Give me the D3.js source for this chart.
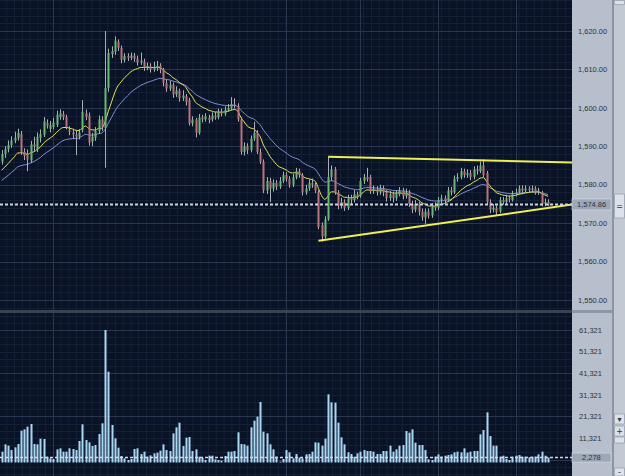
<!DOCTYPE html>
<html lang="en">
<head>
<meta charset="UTF-8" />
<title>candles</title>
<style>
  body { margin: 0; background: #0a1226; overflow: hidden; }
  svg { display: block; }
  .axis text { font-family: "Liberation Sans", Arial, sans-serif; font-size: 7.5px; fill: #2c3240; }
</style>
</head>
<body>
<svg width="625" height="476"></svg>
<script src="https://d3js.org/d3.v7.min.js"></script>
<script>
// ---- data ----
const open = [1586.0,1588.0,1589.2,1590.3,1591.5,1592.2,1593.2,1588.6,1588.0,1586.3,
  1590.5,1589.2,1592.2,1593.0,1596.0,1594.5,1595.0,1595.6,1597.6,1598.4,
  1597.6,1594.2,1593.6,1593.0,1592.5,1594.2,1598.6,1598.0,1591.2,1592.2,
  1594.0,1597.0,1594.8,1605.2,1614.0,1614.6,1617.2,1615.6,1612.5,1613.5,
  1613.0,1613.6,1612.8,1611.8,1612.0,1610.5,1610.8,1610.0,1610.5,1611.0,
  1610.0,1606.5,1605.0,1606.0,1603.5,1604.5,1602.5,1603.0,1602.0,1596.0,
  1597.0,1593.5,1597.5,1597.0,1597.5,1597.0,1598.0,1597.5,1599.0,1598.5,
  1599.5,1600.0,1601.0,1600.5,1597.0,1588.5,1590.0,1589.0,1592.0,1593.5,
  1588.5,1586.0,1578.5,1581.0,1579.0,1580.5,1579.5,1581.0,1582.5,1581.5,
  1580.0,1582.0,1583.5,1582.5,1578.0,1579.0,1580.5,1580.0,1578.0,1569.5,
  1566.5,1571.0,1582.0,1584.0,1578.0,1574.5,1575.5,1574.0,1576.5,1576.0,
  1577.5,1577.0,1581.0,1582.0,1582.0,1578.3,1578.8,1578.0,1579.0,1578.0,
  1576.5,1577.5,1576.5,1577.5,1578.5,1577.0,1578.0,1575.0,1573.5,1575.0,
  1573.0,1571.5,1573.0,1572.0,1574.5,1574.0,1576.0,1576.5,1576.0,1578.5,
  1578.0,1581.5,1582.0,1583.5,1582.5,1583.0,1582.0,1584.0,1583.5,1585.0,
  1583.0,1575.5,1573.5,1574.0,1573.0,1576.0,1575.5,1576.5,1576.0,1577.5,
  1578.0,1579.0,1578.5,1579.0,1578.6,1579.0,1578.0,1578.0,1575.0,1575.5];
const high = [1589.0,1590.0,1591.5,1592.6,1593.8,1594.6,1594.0,1589.5,1589.2,1591.4,
  1592.5,1593.6,1594.4,1597.6,1597.0,1596.6,1597.4,1599.3,1599.6,1599.2,
  1598.2,1595.2,1594.6,1594.0,1594.5,1602.0,1599.6,1598.8,1593.5,1595.0,
  1598.0,1597.8,1620.0,1615.4,1616.0,1618.6,1617.8,1616.2,1614.2,1614.2,
  1614.4,1614.3,1613.6,1614.4,1612.8,1611.8,1611.6,1612.0,1612.2,1611.6,
  1610.4,1607.4,1607.0,1606.6,1605.6,1605.0,1604.6,1603.6,1602.6,1597.8,
  1597.4,1598.4,1598.2,1598.6,1598.2,1598.8,1598.9,1599.8,1599.8,1600.4,
  1601.0,1602.8,1602.5,1601.2,1597.6,1591.0,1590.8,1592.8,1596.4,1594.2,
  1589.4,1586.6,1582.0,1581.8,1581.4,1581.2,1582.0,1583.4,1583.2,1582.2,
  1582.8,1584.4,1584.2,1583.0,1580.0,1581.4,1581.6,1580.6,1578.6,1570.2,
  1571.8,1587.2,1585.0,1584.6,1578.6,1576.6,1576.2,1577.4,1577.4,1578.6,
  1578.2,1581.8,1582.8,1584.4,1582.6,1579.8,1579.6,1580.0,1579.8,1578.6,
  1578.4,1578.2,1578.6,1579.4,1579.2,1579.0,1578.6,1575.8,1576.0,1575.6,
  1573.8,1573.8,1573.8,1575.2,1575.4,1576.8,1577.4,1577.2,1579.4,1579.4,
  1582.4,1583.0,1584.4,1584.2,1584.0,1583.8,1584.8,1585.0,1586.0,1586.6,
  1583.6,1576.2,1575.0,1574.6,1576.8,1576.8,1577.4,1577.2,1578.4,1579.0,
  1579.8,1579.8,1579.8,1579.6,1579.8,1579.6,1579.2,1578.4,1576.4,1576.2];
const low = [1585.2,1587.0,1588.4,1589.6,1590.8,1591.5,1587.8,1586.4,1583.5,1585.6,
  1588.8,1588.5,1591.0,1592.4,1594.6,1593.6,1594.4,1595.0,1596.9,1596.8,
  1594.4,1592.9,1592.0,1587.7,1591.8,1593.6,1596.8,1590.2,1590.0,1591.4,
  1593.2,1594.0,1584.4,1604.2,1613.0,1613.8,1614.8,1611.6,1611.8,1612.2,
  1612.4,1612.0,1611.0,1611.2,1609.6,1609.8,1609.2,1609.4,1609.6,1609.0,
  1605.6,1604.2,1604.4,1602.6,1602.8,1601.6,1601.8,1600.6,1595.4,1595.2,
  1592.3,1593.0,1596.2,1596.4,1596.0,1596.4,1596.9,1597.0,1597.8,1597.9,
  1599.0,1599.4,1599.8,1596.4,1587.8,1587.6,1588.0,1588.4,1591.4,1588.0,
  1585.4,1577.8,1577.6,1575.5,1578.2,1578.6,1578.9,1580.4,1580.8,1579.2,
  1579.4,1581.4,1581.8,1577.2,1577.4,1578.4,1579.2,1577.8,1568.4,1565.2,
  1566.0,1570.6,1581.0,1577.4,1573.6,1573.8,1573.2,1573.4,1575.0,1575.4,
  1576.2,1576.6,1580.2,1580.8,1577.6,1577.6,1577.2,1577.4,1577.0,1575.6,
  1575.8,1575.4,1575.8,1577.0,1576.2,1576.4,1574.2,1572.6,1572.8,1572.0,
  1570.6,1569.8,1571.2,1571.4,1573.2,1573.4,1575.2,1575.2,1575.6,1577.2,
  1577.6,1580.8,1581.4,1581.8,1581.8,1581.2,1581.4,1582.6,1583.0,1582.0,
  1575.0,1572.6,1572.8,1572.2,1572.6,1574.8,1575.0,1575.4,1575.6,1577.0,
  1577.6,1577.8,1578.0,1577.8,1578.0,1577.4,1577.4,1574.4,1574.4,1574.4];
const close = [1588.0,1589.2,1590.3,1591.5,1592.2,1593.5,1588.6,1587.5,1586.5,1590.5,
  1590.0,1592.5,1593.2,1596.5,1595.4,1595.5,1596.2,1598.2,1598.6,1597.6,
  1595.0,1593.8,1593.0,1592.5,1593.6,1599.0,1597.6,1591.0,1592.5,1594.0,
  1597.0,1595.0,1605.2,1614.3,1614.8,1617.5,1615.6,1612.5,1613.5,1613.0,
  1613.6,1612.8,1611.8,1612.3,1610.5,1610.9,1610.0,1610.6,1610.9,1610.0,
  1606.5,1605.0,1606.0,1603.5,1604.5,1602.5,1603.2,1601.5,1596.0,1597.0,
  1593.5,1597.5,1597.0,1597.8,1596.8,1598.0,1597.5,1599.0,1598.5,1599.5,
  1600.0,1601.0,1600.5,1597.0,1588.5,1590.0,1589.0,1592.0,1593.5,1588.5,
  1586.0,1578.5,1581.0,1579.0,1580.5,1579.5,1581.0,1582.5,1581.5,1580.0,
  1582.0,1583.5,1582.5,1578.0,1579.0,1580.5,1580.0,1578.5,1569.0,1566.5,
  1571.0,1582.0,1584.0,1578.0,1574.5,1575.5,1574.0,1576.5,1576.0,1577.5,
  1577.0,1581.0,1582.0,1581.5,1578.3,1578.8,1578.0,1579.0,1578.0,1576.5,
  1577.5,1576.5,1577.5,1578.5,1577.0,1578.0,1575.0,1573.5,1575.0,1573.0,
  1571.5,1573.0,1572.0,1574.5,1574.0,1576.0,1576.5,1576.0,1578.5,1578.0,
  1581.5,1582.0,1583.5,1582.5,1583.0,1582.0,1584.0,1583.5,1585.0,1582.5,
  1575.5,1573.5,1574.0,1572.8,1576.0,1575.5,1576.5,1576.2,1577.5,1578.0,
  1579.0,1578.5,1579.0,1578.6,1579.0,1578.0,1578.5,1575.0,1575.5,1574.86];
const volume = [5013,8408,7790,5785,7019,8562,14733,15350,16583,17818,
  8562,8408,11029,10876,2699,1928,1620,6094,6557,5013,
  5013,6557,6248,5785,9950,17664,10413,9334,7636,8099,
  13190,18127,61321,42037,17355,11184,6865,3008,1928,1157,
  1620,6248,6557,3934,5013,2699,3317,4242,4551,5476,
  8408,5785,5322,13499,16275,18435,7636,11492,11801,5322,
  6094,2699,2200,1157,3162,3162,1466,1157,848,3008,
  5013,5013,5322,13962,8562,8408,7790,16275,19360,21212,
  27999,14270,13499,8408,6094,2699,386,1620,5785,4705,
  1928,3934,2236,1928,3779,3934,5013,9334,9180,7790,
  11029,31547,27845,27691,18435,11647,8408,4705,3934,2699,
  4242,5013,5785,5322,5322,5013,3934,3934,5322,5322,
  7790,5013,6094,7790,8099,14578,13807,15350,9180,8099,
  8099,5785,1466,1157,2699,3779,2699,3162,3471,3779,
  4705,5013,4705,6557,4551,5013,5322,5322,13036,15041,
  23218,12264,7790,7790,2699,3162,1620,1157,2699,3162,
  3471,2699,2699,2390,2699,2699,3779,5013,3162,2278];
const priceTicks = [1550, 1560, 1570, 1580, 1590, 1600, 1610, 1620];
const volumeTicks = [11321, 21321, 31321, 41321, 51321, 61321];
const lastPrice = 1574.86;
const lastVolume = 2278;
const fastStart = 1583.0, slowStart = 1580.5; // MA levels at the left edge
const trendUpper = [[101, 1587.3], [177, 1585.8]];
const trendLower = [[98, 1565.4], [177, 1574.9]];
const dayBreaks = [16, 88, 111, 135, 159];

// ---- layout ----
const W = 625, H = 476;
const plotR = 572, axisR = 612;
const priceTop = 0, priceBot = 310, volTop = 313, volBot = 476;
const N = close.length;

const svg = d3.select("svg");

const x = d3.scaleLinear().domain([0, N - 1]).range([1.6, 548]);
const y = d3.scaleLinear().domain([1550, 1620]).range([300, 31]);
const yv = d3.scaleLinear().domain([0, 61321]).range([462.5, 330]);

// background
svg.append("rect").attr("width", plotR).attr("height", H).attr("fill", "#0a1226");

// clip paths for the two panes
const defs = svg.append("defs");
defs.append("clipPath").attr("id", "cp").append("rect")
  .attr("x", 0).attr("y", priceTop).attr("width", plotR).attr("height", priceBot - priceTop);
defs.append("clipPath").attr("id", "cv").append("rect")
  .attr("x", 0).attr("y", volTop).attr("width", plotR).attr("height", volBot - volTop);

const gp = svg.append("g").attr("clip-path", "url(#cp)");
const gv = svg.append("g").attr("clip-path", "url(#cv)");

// grid
const minorX = d3.range(dayBreaks[0] - 2.4 * 8, N + 12, 2.4);
[gp, gv].forEach(g => {
  g.append("g").selectAll("line").data(minorX).join("line")
    .attr("x1", d => x(d)).attr("x2", d => x(d))
    .attr("y1", 0).attr("y2", H)
    .attr("stroke", "#142036").attr("stroke-width", 1);
});
gp.append("g").selectAll("line").data(d3.range(1540, 1632, 2)).join("line")
  .attr("x1", 0).attr("x2", plotR)
  .attr("y1", d => Math.round(y(d)) + 0.5).attr("y2", d => Math.round(y(d)) + 0.5)
  .attr("stroke", d => d % 10 === 0 ? "#2a3550" : "#142036");
gv.append("g").selectAll("line").data(d3.range(1321 - 20000 / 6 * 2, 75000, 20000 / 6)).join("line")
  .attr("x1", 0).attr("x2", plotR)
  .attr("y1", d => Math.round(yv(d)) + 0.5).attr("y2", d => Math.round(yv(d)) + 0.5)
  .attr("stroke", (d, i) => i % 6 === 2 ? "#2a3550" : "#142036");
[gp, gv].forEach(g => {
  g.append("g").selectAll("line").data(dayBreaks).join("line")
    .attr("x1", d => Math.round(x(d)) + 0.5).attr("x2", d => Math.round(x(d)) + 0.5)
    .attr("y1", 0).attr("y2", H)
    .attr("stroke", "#2a3550");
});

// moving averages
function ema(values, period, seed) {
  const k = 2 / (period + 1);
  let prev = seed;
  return values.map(v => (prev = prev + k * (v - prev)));
}
const fast = ema(close, 12, fastStart);
const slow = ema(close, 24, slowStart);
const line = d3.line().x((d, i) => x(i)).y(d => y(d)).curve(d3.curveMonotoneX);

gp.append("path").attr("d", line(slow)).attr("fill", "none")
  .attr("stroke", "#7d8fd6").attr("stroke-width", 1);
gp.append("path").attr("d", line(fast)).attr("fill", "none")
  .attr("stroke", "#e4e45c").attr("stroke-width", 1);

// candles
const idx = d3.range(N);
const candles = gp.append("g").selectAll("g").data(idx).join("g");
candles.append("line")
  .attr("x1", i => Math.round(x(i)) + 0.5).attr("x2", i => Math.round(x(i)) + 0.5)
  .attr("y1", i => y(high[i])).attr("y2", i => y(low[i]))
  .attr("stroke", "#a9aeb9").attr("stroke-width", 1);
candles.append("rect")
  .attr("x", i => Math.round(x(i)) - 0.5)
  .attr("width", 2)
  .attr("y", i => y(Math.max(open[i], close[i])))
  .attr("height", i => Math.max(1, Math.abs(y(open[i]) - y(close[i]))))
  .attr("fill", i => close[i] >= open[i] ? "#68b873" : "#b8737c");

// trend lines
const tl = d3.line().x(d => x(d[0])).y(d => y(d[1]));
[trendUpper, trendLower].forEach(t => {
  gp.append("path").attr("d", tl(t)).attr("fill", "none")
    .attr("stroke", "#eeee55").attr("stroke-width", 2);
});

// current price line
gp.append("line").attr("x1", 0).attr("x2", plotR)
  .attr("y1", y(lastPrice)).attr("y2", y(lastPrice))
  .attr("stroke", "#cfd3dc").attr("stroke-width", 2).attr("stroke-dasharray", "3,2");

// volume bars
gv.append("g").selectAll("rect").data(idx).join("rect")
  .attr("x", i => Math.round(x(i)) - 0.5)
  .attr("width", 2)
  .attr("y", i => yv(volume[i]))
  .attr("height", i => yv(0) - yv(volume[i]))
  .attr("fill", "#a9d8f4");
gv.append("line").attr("x1", 0).attr("x2", plotR)
  .attr("y1", yv(lastVolume)).attr("y2", yv(lastVolume))
  .attr("stroke", "#d6dae2").attr("stroke-width", 1.5).attr("stroke-dasharray", "3,2");

// pane separator
svg.append("rect").attr("x", 0).attr("y", priceBot).attr("width", plotR).attr("height", volTop - priceBot)
  .attr("fill", "#3a4252");

// right axis panel
const ax = svg.append("g").attr("class", "axis");
ax.append("rect").attr("x", plotR).attr("y", 0).attr("width", axisR - plotR).attr("height", H).attr("fill", "#b7bfcc");
ax.append("rect").attr("x", plotR).attr("y", priceBot).attr("width", axisR - plotR).attr("height", volTop - priceBot).attr("fill", "#8e97a7");

const fmtP = d3.format(",.2f"), fmtV = d3.format(",");
ax.append("g").selectAll("text").data(priceTicks).join("text")
  .attr("x", 578).attr("y", d => y(d) + 2.7).text(d => fmtP(d));
ax.append("g").selectAll("text").data(volumeTicks).join("text")
  .attr("x", 579).attr("y", d => yv(d) + 2.7).text(d => fmtV(d));

// last-value boxes
ax.append("rect").attr("x", plotR).attr("y", y(lastPrice) - 5.5).attr("width", axisR - plotR - 1).attr("height", 11)
  .attr("fill", "#9ea7b7").attr("stroke", "#d5dae2").attr("stroke-width", 0.6);
ax.append("text").attr("x", 577).attr("y", y(lastPrice) + 2.7).text(fmtP(lastPrice));
ax.append("rect").attr("x", plotR).attr("y", yv(lastVolume) - 4.5).attr("width", axisR - plotR - 1).attr("height", 9)
  .attr("fill", "#9ea7b7").attr("stroke", "#d5dae2").attr("stroke-width", 0.6);
ax.append("text").attr("x", 582).attr("y", yv(lastVolume) + 2.7).text(fmtV(lastVolume));

// scrollbar strip
const sb = svg.append("g");
sb.append("rect").attr("x", axisR).attr("y", 0).attr("width", 2).attr("height", H).attr("fill", "#8c95a5");
sb.append("rect").attr("x", axisR + 2).attr("y", 0).attr("width", W - axisR - 2).attr("height", H).attr("fill", "#c3c9d3");
const btn = (y0, h, label) => {
  sb.append("rect").attr("x", axisR + 2.5).attr("y", y0).attr("width", W - axisR - 3).attr("height", h)
    .attr("fill", "#dde1e8").attr("stroke", "#9aa2b0").attr("stroke-width", 0.8);
  if (label) sb.append("text").attr("x", (axisR + 2 + W) / 2).attr("y", y0 + h / 2 + 3)
    .attr("text-anchor", "middle").attr("font-family", "DejaVu Sans, sans-serif")
    .attr("font-size", 8).attr("fill", "#333").text(label);
};
btn(0.5, 4, "");
btn(194, 24, "=");
btn(414, 10, "▾");
btn(426, 10, "+");
btn(437, 6, "");
btn(468, 8, "-");
</script>
</body>
</html>
